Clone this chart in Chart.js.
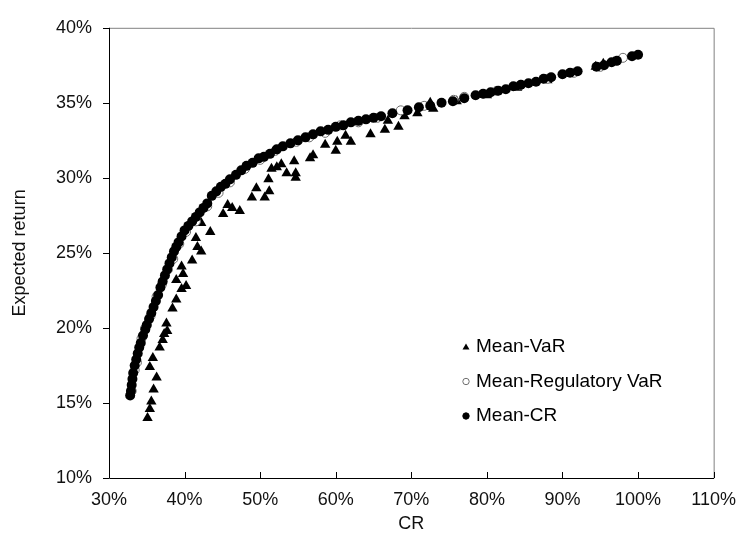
<!DOCTYPE html>
<html>
<head>
<meta charset="utf-8">
<script src="https://cdn.jsdelivr.net/npm/chart.js@4.4.1/dist/chart.umd.min.js"></script>
<style>
  html, body { margin: 0; padding: 0; background: #fff; }
  #wrap { width: 747px; height: 543px; }
</style>
</head>
<body>
<div id="wrap"><canvas id="chart" width="747" height="543"></canvas></div>
<script>
// x = CR (%), y = expected return (%)
const xTicks = [30, 40, 50, 60, 70, 80, 90, 100, 110];
const yTicks = [10, 15, 20, 25, 30, 35, 40];
const seriesNames = ['Mean-VaR', 'Mean-Regulatory VaR', 'Mean-CR'];

const varX = [35.1, 35.4, 35.6, 35.9, 36.3, 35.4, 35.8, 36.7, 37.1, 37.7, 37.3, 37.6, 38.4, 38.9, 39.6, 40.2, 38.9, 39.8, 39.6, 41.0,
  42.2, 41.7, 41.5, 43.4, 42.2, 45.1, 45.7, 46.3, 47.3, 48.9, 49.5, 50.6, 51.1, 51.2, 51.5, 52.2, 52.8, 53.5, 54.5, 54.7,
  54.7, 56.6, 57.0, 58.6, 60.0, 60.2, 61.3, 62.0, 64.6, 66.5, 68.3, 66.9, 69.1, 70.8, 72.9, 72.5, 76.0, 80.0, 84.0, 88.0,
  94.4, 95.4, 96.8];
const varY = [14.0, 14.6, 15.1, 15.9, 16.7, 17.4, 18.0, 18.7, 19.2, 19.8, 19.6, 20.3, 21.3, 21.9, 22.6, 22.8, 23.2, 23.6, 24.1, 24.5,
  25.1, 25.4, 26.0, 26.4, 27.0, 27.6, 28.2, 28.0, 27.8, 28.7, 29.3, 28.7, 29.9, 29.1, 30.6, 30.7, 30.9, 30.3, 31.1, 30.3,
  30.0, 31.3, 31.5, 32.2, 31.8, 32.4, 32.8, 32.4, 32.9, 33.2, 33.4, 33.8, 34.1, 34.3, 34.6, 35.0, 35.1, 35.5, 36.0, 36.5,
  37.4, 37.6, 37.7];

const regX = [33.0, 33.4, 33.7, 34.3, 34.8, 35.5, 36.3, 37.0, 37.8, 38.5, 39.3, 40.2, 41.5, 43.0, 44.5, 46.0, 48.0, 50.0, 52.0, 54.8,
  56.5, 58.6, 60.6, 63.0, 65.5, 68.6, 71.7, 75.6, 77.0, 81.3, 84.5, 88.0, 91.5, 95.0, 98.0];
const regY = [15.8, 17.2, 17.7, 19.3, 20.0, 20.8, 22.1, 22.9, 23.9, 24.6, 25.6, 26.4, 27.1, 28.1, 29.0, 29.7, 30.6, 31.2, 31.8, 32.4,
  32.7, 33.0, 33.5, 33.7, 34.0, 34.5, 34.8, 35.2, 35.4, 35.8, 36.2, 36.6, 37.0, 37.4, 38.0];

const crX = [32.8, 32.9, 33.0, 33.1, 33.2, 33.4, 33.6, 33.8, 34.0, 34.2, 34.5, 34.8, 35.0, 35.3, 35.6, 35.9, 36.2, 36.5, 36.8, 37.1,
  37.4, 37.7, 38.0, 38.3, 38.6, 38.9, 39.2, 39.6, 40.0, 40.5, 41.0, 41.5, 42.0, 42.5, 43.0, 43.6, 44.2, 44.8, 45.4, 46.0,
  46.8, 47.5, 48.2, 49.0, 49.8, 50.5, 51.3, 52.2, 53.0, 54.0, 55.0, 56.0, 57.0, 58.0, 59.0, 60.0, 61.0, 62.0, 63.0, 64.0,
  65.0, 66.0, 67.5, 69.5, 71.0, 72.5, 74.0, 75.5, 77.0, 78.5, 79.5, 80.5, 81.5, 82.5, 83.5, 84.5, 85.5, 86.5, 87.5, 88.5,
  90.0, 91.0, 92.0, 94.5, 95.5, 96.5, 97.2, 99.2, 100.0];
const crY = [15.5, 15.8, 16.2, 16.6, 17.0, 17.5, 17.9, 18.3, 18.7, 19.0, 19.5, 19.9, 20.2, 20.6, 21.0, 21.4, 21.8, 22.2, 22.7, 23.1,
  23.5, 23.9, 24.3, 24.7, 25.1, 25.4, 25.7, 26.1, 26.5, 26.8, 27.1, 27.4, 27.7, 28.0, 28.3, 28.8, 29.1, 29.4, 29.6, 29.9,
  30.2, 30.5, 30.8, 31.0, 31.3, 31.4, 31.6, 31.9, 32.1, 32.3, 32.5, 32.7, 32.9, 33.1, 33.2, 33.4, 33.5, 33.7, 33.8, 33.9,
  34.0, 34.1, 34.3, 34.5, 34.7, 34.8, 35.0, 35.1, 35.3, 35.5, 35.6, 35.7, 35.8, 35.9, 36.1, 36.2, 36.3, 36.4, 36.6, 36.7,
  36.9, 37.0, 37.1, 37.4, 37.5, 37.7, 37.8, 38.1, 38.2];

function pts(xs, ys) {
    return xs.map((x, i) => ({ x: x, y: ys[i] }));
}

const FONT = "'Liberation Sans', Arial, sans-serif";

// frame, ticks and legend drawn like the excel original
const excelBits = {
    id: 'excelBits',
    beforeDatasetsDraw(chart) {
        const ctx = chart.ctx;
        const a = chart.chartArea;
        const xs = chart.scales.x, ys = chart.scales.y;
        ctx.save();
        ctx.lineWidth = 1;
        ctx.strokeStyle = '#808080';
        ctx.beginPath();
        ctx.moveTo(a.left, a.top + 0.5);
        ctx.lineTo(a.right + 0.5, a.top + 0.5);
        ctx.lineTo(a.right + 0.5, a.bottom);
        ctx.stroke();
        ctx.strokeStyle = '#000';
        ctx.beginPath();
        ctx.moveTo(a.left + 0.5, a.top);
        ctx.lineTo(a.left + 0.5, a.bottom + 0.5);
        ctx.lineTo(a.right + 0.5, a.bottom + 0.5);
        xs.ticks.forEach(t => {
            const px = Math.round(xs.getPixelForValue(t.value)) + 0.5;
            ctx.moveTo(px, a.bottom);
            ctx.lineTo(px, a.bottom - 6);
        });
        ys.ticks.forEach(t => {
            const py = Math.round(ys.getPixelForValue(t.value)) + 0.5;
            ctx.moveTo(a.left, py);
            ctx.lineTo(a.left - 6, py);
        });
        ctx.stroke();
        ctx.restore();
    },
    afterDraw(chart) {
        const ctx = chart.ctx;
        const lx = 466, ly = 347, gap = 34.5;
        ctx.save();
        ctx.font = '19px ' + FONT;
        ctx.textBaseline = 'middle';
        ctx.fillStyle = '#000';
        chart.data.datasets.forEach((ds, i) => {
            const y = ly + i * gap;
            ctx.beginPath();
            if (ds.pointStyle === 'triangle') {
                ctx.moveTo(lx, y - 3.5);
                ctx.lineTo(lx + 3.5, y + 2.5);
                ctx.lineTo(lx - 3.5, y + 2.5);
                ctx.closePath();
                ctx.fillStyle = ds.backgroundColor;
                ctx.fill();
            } else {
                ctx.arc(lx, y, 3.2, 0, Math.PI * 2);
                ctx.fillStyle = ds.backgroundColor;
                ctx.fill();
                ctx.strokeStyle = ds.borderColor;
                ctx.lineWidth = 1;
                ctx.stroke();
            }
            ctx.fillStyle = '#000';
            ctx.fillText(ds.label, lx + 10, y);
        });
        ctx.restore();
    }
};

new Chart(document.getElementById('chart'), {
    type: 'scatter',
    data: {
        datasets: [{
            label: seriesNames[0],
            data: pts(varX, varY),
            pointStyle: 'triangle',
            pointRadius: 6,
            backgroundColor: '#000',
            borderColor: '#000',
            borderWidth: 0,
            order: 2
        }, {
            label: seriesNames[1],
            data: pts(regX, regY),
            pointStyle: 'circle',
            pointRadius: 4.5,
            backgroundColor: '#fff',
            borderColor: '#6e6e6e',
            borderWidth: 1,
            order: 1
        }, {
            label: seriesNames[2],
            data: pts(crX, crY),
            pointStyle: 'circle',
            pointRadius: 5,
            backgroundColor: '#000',
            borderColor: '#000',
            borderWidth: 0,
            order: 0
        }]
    },
    options: {
        responsive: false,
        animation: false,
        events: [],
        layout: { padding: { top: 18, right: 28, left: 0, bottom: 0 } },
        plugins: {
            legend: { display: false },
            tooltip: { enabled: false }
        },
        scales: {
            x: {
                type: 'linear',
                min: 30,
                max: 110,
                afterFit: s => { s.height = 65; },
                afterBuildTicks: s => { s.ticks = xTicks.map(v => ({ value: v })); },
                grid: { display: false, drawTicks: false },
                border: { display: false },
                ticks: {
                    padding: 11,
                    color: '#111',
                    font: { family: FONT, size: 18 },
                    callback: v => v + '%'
                },
                title: {
                    display: true,
                    text: 'CR',
                    color: '#111',
                    font: { family: FONT, size: 18 },
                    padding: { top: 0, bottom: 8 }
                }
            },
            y: {
                type: 'linear',
                min: 10,
                max: 40,
                afterFit: s => { s.width = 109; },
                afterBuildTicks: s => { s.ticks = yTicks.map(v => ({ value: v })); },
                grid: { display: false, drawTicks: false },
                border: { display: false },
                ticks: {
                    padding: 17,
                    color: '#111',
                    font: { family: FONT, size: 18 },
                    callback: v => v + '%'
                },
                title: {
                    display: true,
                    text: 'Expected return',
                    color: '#111',
                    font: { family: FONT, size: 18 },
                    padding: { top: 9, bottom: 0 }
                }
            }
        }
    },
    plugins: [excelBits]
});
</script>
</body>
</html>
